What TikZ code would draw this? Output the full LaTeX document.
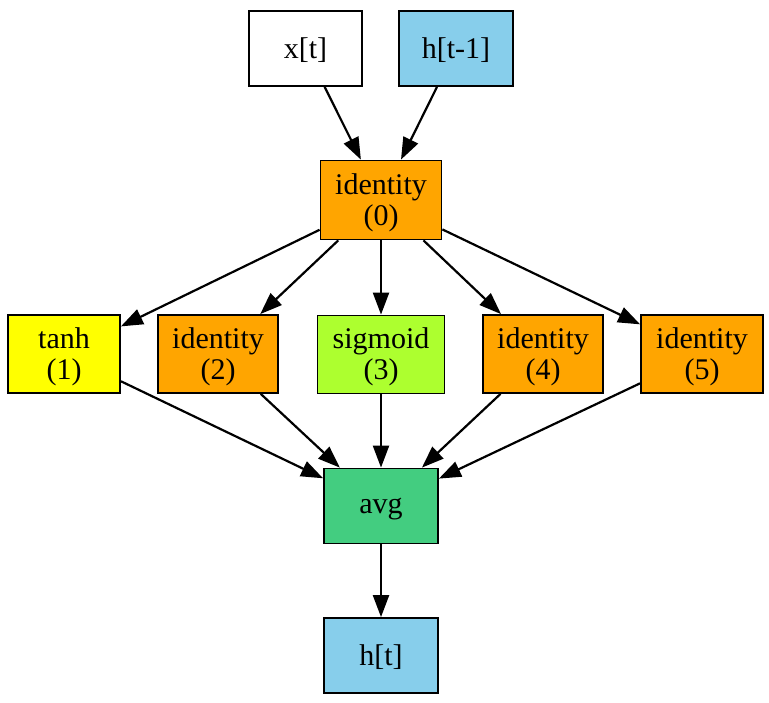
\documentclass[tikz,border=0pt]{standalone}
\usepackage{fontspec}
\setmainfont{Liberation Serif}
\usetikzlibrary{arrows.meta}
\definecolor{gvorange}{HTML}{FFA500}
\definecolor{gvyellow}{HTML}{FFFF00}
\definecolor{gvgreenyellow}{HTML}{ADFF2F}
\definecolor{gvskyblue}{HTML}{87CEEB}
\definecolor{gvseagreen}{HTML}{43CD80}
\begin{document}
\begin{tikzpicture}[x=0.5pt,y=-0.5pt,
  box/.style={draw=black, line width=0.9pt, rectangle, inner sep=0pt, align=center,
    font=\fontsize{15}{15.5}\selectfont, text=black, text depth=0.5pt},
  edge/.style={draw=black, line width=1.1pt, -{Triangle[length=11pt,width=8pt]}}]
\useasboundingbox (0,0) rectangle (769,702);
\fill[white] (0,0) rectangle (769,702);
\node[box, fill=white, minimum width=56.5pt, minimum height=37.5pt] (xt) at (305.5,48.5) {x[t]};
\node[box, fill=gvskyblue, minimum width=57pt, minimum height=37.5pt] (hp) at (456,48.5) {h[t-1]};
\node[box, fill=gvorange, minimum width=60.5pt, minimum height=39.5pt] (n0) at (381,200) {identity\\(0)};
\node[box, fill=gvyellow, minimum width=56pt, minimum height=39pt] (n1) at (64,354) {tanh\\(1)};
\node[box, fill=gvorange, minimum width=60pt, minimum height=39pt] (n2) at (218,354) {identity\\(2)};
\node[box, fill=gvgreenyellow, minimum width=63.5pt, minimum height=39pt] (n3) at (381,354.5) {sigmoid\\(3)};
\node[box, fill=gvorange, minimum width=60pt, minimum height=39pt] (n4) at (543,354) {identity\\(4)};
\node[box, fill=gvorange, minimum width=61pt, minimum height=39pt] (n5) at (702,354) {identity\\(5)};
\node[box, fill=gvseagreen, minimum width=57pt, minimum height=37.5pt] (avg) at (381,506) {avg};
\node[box, fill=gvskyblue, minimum width=57pt, minimum height=37.5pt] (ht) at (381,655.5) {h[t]};
\draw[edge] (xt) -- (n0);
\draw[edge] (hp) -- (n0);
\draw[edge] (n0) -- (n1);
\draw[edge] (n0) -- (n2);
\draw[edge] (n0) -- (n3);
\draw[edge] (n0) -- (n4);
\draw[edge] (n0) -- (n5);
\draw[edge] (n1) -- (avg);
\draw[edge] (n2) -- (avg);
\draw[edge] (n3) -- (avg);
\draw[edge] (n4) -- (avg);
\draw[edge] (n5) -- (avg);
\draw[edge] (avg) -- (ht);
\end{tikzpicture}
\end{document}
